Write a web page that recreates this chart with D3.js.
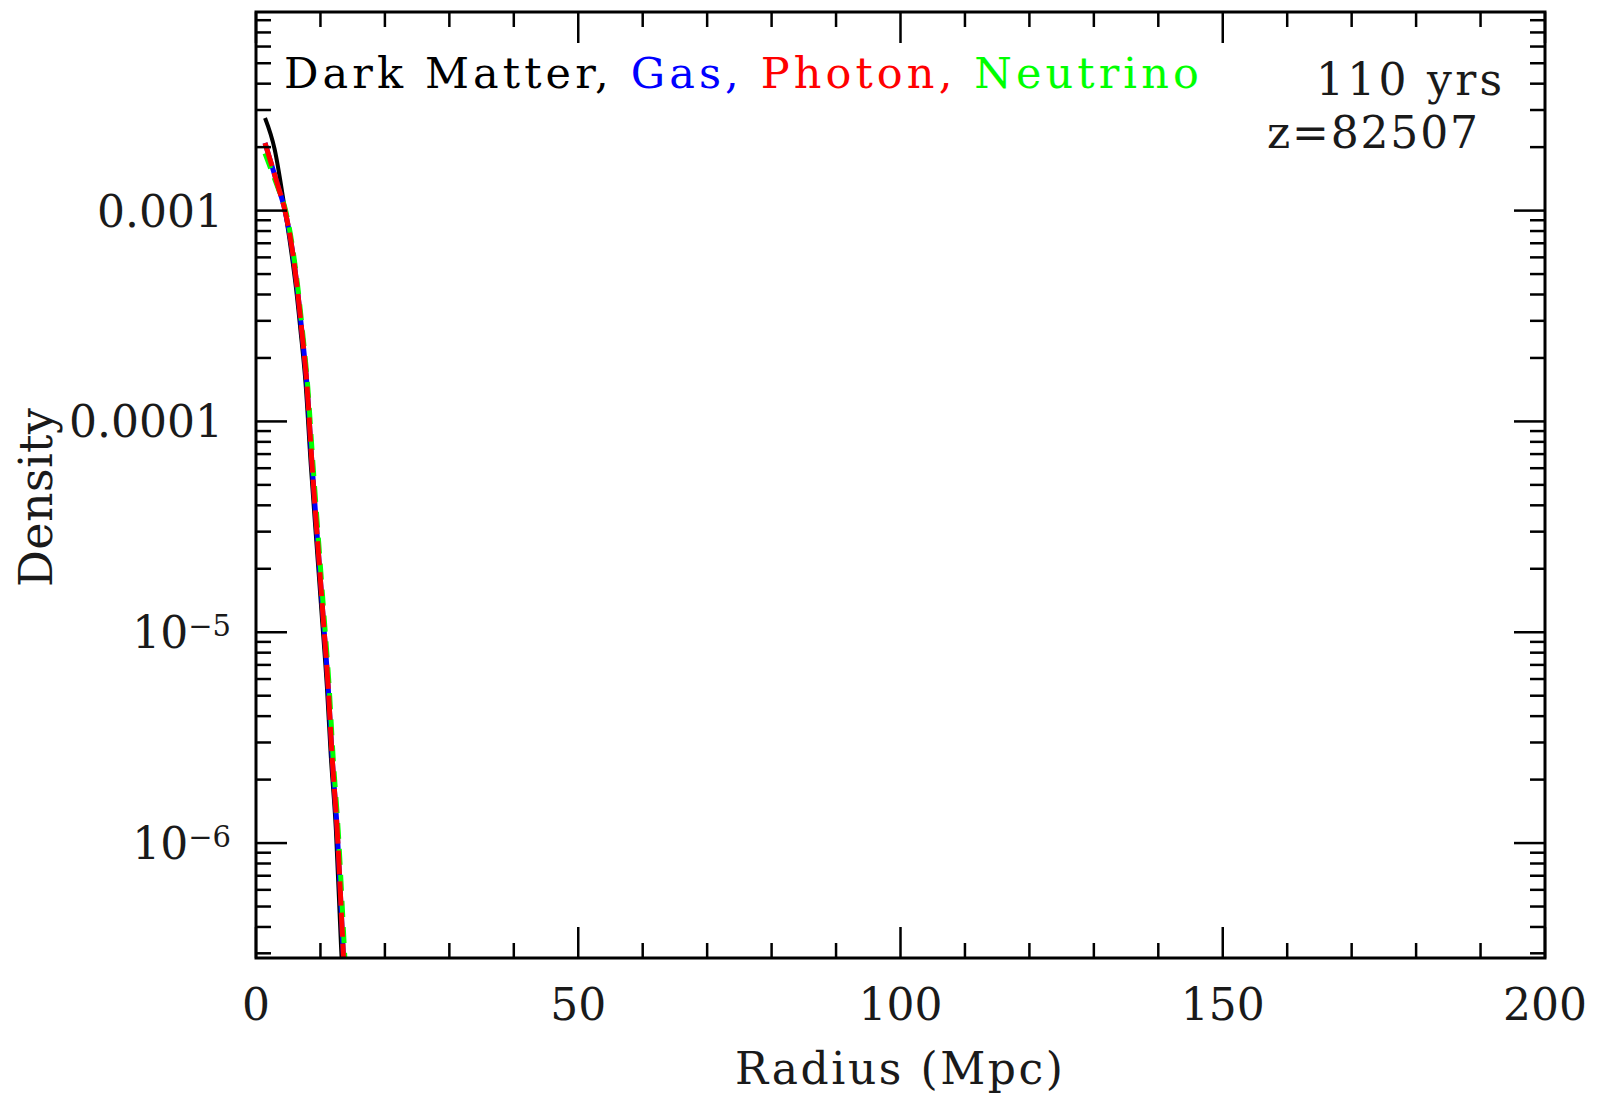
<!DOCTYPE html>
<html>
<head>
<meta charset="utf-8">
<script src="https://cdn.jsdelivr.net/npm/d3@7"></script>
<style>
  html, body { margin: 0; padding: 0; background: #fff; }
  svg { display: block; }
  text { font-family: "DejaVu Serif", serif; fill: #1a1a1a; }
</style>
</head>
<body>
<svg id="chart" width="1606" height="1097"></svg>
<script>
// ---------------- data ----------------
const xMajorTicks = [0, 50, 100, 150, 200];
const xTickLabels = ["0", "50", "100", "150", "200"];
const xMinorStep = 10;
const yMajorTicks = [1e-3, 1e-4, 1e-5, 1e-6];
const yTickBase = ["0.001", "0.0001", "10", "10"];
const yTickSup = ["", "", "\u22125", "\u22126"];

const seriesNames = ["Dark Matter", "Gas", "Photon", "Neutrino"];
const seriesColors = ["#000000", "#0000ff", "#ff0000", "#00ff00"];

const radiusDM  = [1.4, 2.9, 4.4, 5.4, 6.2, 6.9, 7.7, 8.5, 9.4, 10.2, 11.0, 11.6, 12.4, 13.2, 13.7];
const densityDM = [2.75e-3, 1.95e-3, 1.05e-3, 6.6e-4, 4.3e-4, 2.7e-4, 1.5e-4, 6.2e-5, 2.6e-5, 1.2e-5, 5.5e-6, 2.6e-6, 1.15e-6, 3.2e-7, 1.6e-7];

const radiusGas  = [1.4, 2.5, 3.5, 4.5, 5.6, 6.4, 7.1, 7.9, 8.7, 9.6, 10.4, 11.2, 11.8, 12.6, 13.5, 14.0];
const densityGas = [2.09e-3, 1.62e-3, 1.28e-3, 1.0e-3, 6.6e-4, 4.3e-4, 2.7e-4, 1.5e-4, 6.2e-5, 2.6e-5, 1.2e-5, 5.5e-6, 2.6e-6, 1.15e-6, 3.2e-7, 1.6e-7];

const radiusPhoton  = [1.4, 2.5, 3.5, 4.5, 5.6, 6.4, 7.1, 7.9, 8.7, 9.6, 10.4, 11.2, 11.8, 12.6, 13.5, 14.0];
const densityPhoton = [2.09e-3, 1.62e-3, 1.28e-3, 1.0e-3, 6.6e-4, 4.3e-4, 2.7e-4, 1.5e-4, 6.2e-5, 2.6e-5, 1.2e-5, 5.5e-6, 2.6e-6, 1.15e-6, 3.2e-7, 1.6e-7];

const radiusNeutrino  = [1.4, 2.4, 3.5, 4.6, 5.7, 6.5, 7.2, 8.0, 8.85, 9.75, 10.55, 11.35, 11.95, 12.75, 13.7, 14.2];
const densityNeutrino = [1.87e-3, 1.55e-3, 1.26e-3, 1.0e-3, 6.6e-4, 4.3e-4, 2.7e-4, 1.5e-4, 6.2e-5, 2.6e-5, 1.2e-5, 5.5e-6, 2.6e-6, 1.15e-6, 3.2e-7, 1.6e-7];

const timeLabel = "110 yrs";
const redshiftLabel = "z=82507";
const xAxisTitle = "Radius (Mpc)";
const yAxisTitle = "Density";

// ---------------- layout ----------------
const svg = d3.select("#chart");
const L = 256, R = 1545, T = 12, B = 958;
const x = d3.scaleLinear().domain([0, 200]).range([L, R]);
const y = d3.scaleLog().domain([2.85e-7, 8.75e-3]).range([B, T]);

function fitWidth(sel, target) {
  const node = sel.node();
  const len = node.getComputedTextLength();
  const n = node.textContent.length;
  if (n > 1) sel.attr("letter-spacing", ((target - len) / (n - 1)).toFixed(2));
}

// clip
svg.append("defs").append("clipPath").attr("id", "plotclip")
  .append("rect").attr("x", L).attr("y", T).attr("width", R - L).attr("height", B - T);

// ---------------- curves ----------------
const line = d3.line().x(d => x(d[0])).y(d => y(d[1])).curve(d3.curveMonotoneX);
const zip = (a, b) => a.map((v, i) => [v, b[i]]);
const g = svg.append("g").attr("clip-path", "url(#plotclip)");

g.append("path").attr("d", line(zip(radiusDM, densityDM)))
  .attr("fill", "none").attr("stroke", seriesColors[0]).attr("stroke-width", 4);
g.append("path").attr("d", line(zip(radiusGas, densityGas)))
  .attr("fill", "none").attr("stroke", seriesColors[1]).attr("stroke-width", 5);
g.append("path").attr("d", line(zip(radiusNeutrino, densityNeutrino)))
  .attr("fill", "none").attr("stroke", seriesColors[3]).attr("stroke-width", 5)
  .attr("stroke-dasharray", "16,10");
g.append("path").attr("d", line(zip(radiusPhoton, densityPhoton)))
  .attr("fill", "none").attr("stroke", seriesColors[2]).attr("stroke-width", 5)
  .attr("stroke-dasharray", "24,7");

// ---------------- ticks ----------------
const tg = svg.append("g").attr("stroke", "#000").attr("stroke-width", 2.5);
const majLen = 31, minLen = 15;
d3.range(0, 201, xMinorStep).forEach(v => {
  const len = xMajorTicks.includes(v) ? majLen : minLen;
  tg.append("line").attr("x1", x(v)).attr("x2", x(v)).attr("y1", B).attr("y2", B - len);
  tg.append("line").attr("x1", x(v)).attr("x2", x(v)).attr("y1", T).attr("y2", T + len);
});
const [ymin, ymax] = y.domain();
for (let e = -7; e <= -2; e++) {
  for (let k = 1; k <= 9; k++) {
    const v = k * Math.pow(10, e);
    if (v < ymin || v > ymax) continue;
    const len = k === 1 ? majLen : minLen;
    tg.append("line").attr("x1", L).attr("x2", L + len).attr("y1", y(v)).attr("y2", y(v));
    tg.append("line").attr("x1", R).attr("x2", R - len).attr("y1", y(v)).attr("y2", y(v));
  }
}
svg.append("rect").attr("x", L).attr("y", T).attr("width", R - L).attr("height", B - T)
  .attr("fill", "none").attr("stroke", "#000").attr("stroke-width", 3);

// ---------------- tick labels ----------------
xMajorTicks.forEach((v, i) => {
  svg.append("text").attr("x", x(v)).attr("y", 1020).attr("text-anchor", "middle")
    .attr("font-size", 44).text(xTickLabels[i]);
});
yMajorTicks.forEach((v, i) => {
  const t = svg.append("text").attr("x", yTickSup[i] ? 231 : 223).attr("y", y(v) + 16)
    .attr("text-anchor", "end").attr("font-size", 44);
  t.append("tspan").text(yTickBase[i]);
  if (yTickSup[i]) {
    t.append("tspan").attr("dy", -12).attr("font-size", 29).text(yTickSup[i]);
  }
});

// ---------------- axis titles ----------------
const xt = svg.append("text").attr("x", 735).attr("y", 1084).attr("font-size", 44).text(xAxisTitle);
fitWidth(xt, 328);
const yt = svg.append("text").attr("transform", "translate(52,587) rotate(-90)")
  .attr("font-size", 46).text(yAxisTitle);
fitWidth(yt, 179);

// ---------------- legend text ----------------
const leg = svg.append("text").attr("x", 284).attr("y", 88).attr("font-size", 43);
seriesNames.forEach((n, i) => {
  leg.append("tspan").attr("fill", seriesColors[i])
    .text(n + (i < seriesNames.length - 1 ? ", " : ""));
});
fitWidth(leg, 915);

const t1 = svg.append("text").attr("x", 1316).attr("y", 95).attr("font-size", 44).text(timeLabel);
fitWidth(t1, 186);
const t2 = svg.append("text").attr("x", 1267).attr("y", 148).attr("font-size", 44).text(redshiftLabel);
fitWidth(t2, 211);
</script>
</body>
</html>
